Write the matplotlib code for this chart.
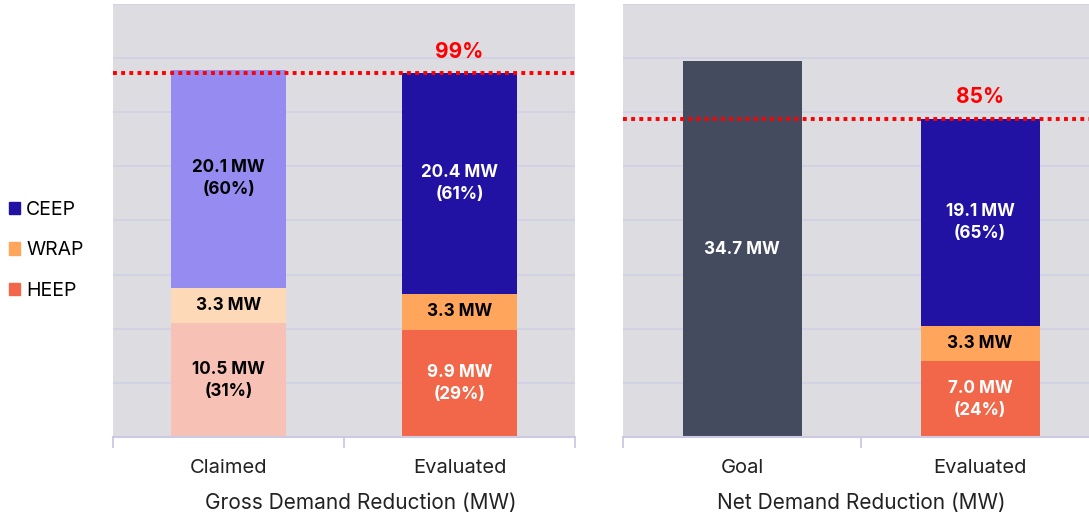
import matplotlib.pyplot as plt
from matplotlib.patches import Patch

plt.rcParams['font.family'] = ['Inter', 'DejaVu Sans']

# gross demand reduction (MW)
gross_cats = ['Claimed', 'Evaluated']
gross_heep = [10.5, 9.9]
gross_wrap = [3.3, 3.3]
gross_ceep = [20.1, 20.4]
gross_heep_lbl = ['10.5 MW\n(31%)', '9.9 MW\n(29%)']
gross_wrap_lbl = ['3.3 MW', '3.3 MW']
gross_ceep_lbl = ['20.1 MW\n(60%)', '20.4 MW\n(61%)']
gross_pct = '99%'

# net demand reduction (MW)
net_cats = ['Goal', 'Evaluated']
net_goal = 34.7
net_heep = 7.0
net_wrap = 3.3
net_ceep = 19.1
net_goal_lbl = '34.7 MW'
net_heep_lbl = '7.0 MW\n(24%)'
net_wrap_lbl = '3.3 MW'
net_ceep_lbl = '19.1 MW\n(65%)'
net_pct = '85%'

c_ceep, c_wrap, c_heep = '#2112A3', '#FFA55C', '#F2674A'
c_ceep_l, c_wrap_l, c_heep_l = '#958BF1', '#FED9B8', '#F8C1B6'
c_goal = '#454B5E'
bg = '#DDDCE1'
grid_c = '#D3D1E6'
spine_c = '#CBC9E3'
W = 0.5

fig = plt.figure(figsize=(10.89, 5.16), dpi=100)
ax1 = fig.add_axes([113 / 1089, 79 / 516, 462 / 1089, 433 / 516])
ax2 = fig.add_axes([623 / 1089, 79 / 516, 476 / 1089, 433 / 516])


def style(ax, cats, title):
    ax.set_facecolor(bg)
    ax.set_ylim(0, 40)
    ax.set_xlim(-0.5, 1.5)
    ax.set_yticks(range(5, 41, 5))
    ax.yaxis.grid(True, color=grid_c, lw=1.3)
    ax.set_axisbelow(True)
    ax.tick_params(axis='y', length=0, labelleft=False)
    ax.set_xticks([0, 1])
    ax.set_xticklabels(cats, fontsize=14.5, color='#222222')
    ax.set_xticks([-0.5, 0.5, 1.5], minor=True)
    ax.tick_params(axis='x', which='major', length=0, pad=16)
    ax.tick_params(axis='x', which='minor', length=8, width=1.3, color=spine_c)
    for s in ['top', 'right', 'left']:
        ax.spines[s].set_visible(False)
    ax.spines['bottom'].set_color(spine_c)
    ax.spines['bottom'].set_linewidth(1.5)
    ax.set_xlabel(title, fontsize=15, color='#222222', labelpad=10)


def label(ax, x, bottom, h, text, color):
    ax.text(x, bottom + h / 2, text, ha='center', va='center', fontsize=12.3,
            fontweight='bold', color=color, linespacing=1.4)


def target(ax, y, x, text):
    ax.axhline(y, color='#FF0000', lw=2.8, ls=(0, (1, 1.1)), zorder=4)
    ax.annotate(text, (x, y), xytext=(0, 15.5), textcoords='offset points',
                ha='center', va='center', fontsize=15, fontweight='bold',
                color='#FF0000')


# left panel
style(ax1, gross_cats, 'Gross Demand Reduction (MW)')
ax1.xaxis.set_label_coords(248 / 462, -0.13)
heep_cols = [c_heep_l, c_heep]
wrap_cols = [c_wrap_l, c_wrap]
ceep_cols = [c_ceep_l, c_ceep]
txt_cols = ['black', 'white']
for i in range(2):
    b1 = 0
    b2 = gross_heep[i]
    b3 = b2 + gross_wrap[i]
    ax1.bar(i, gross_heep[i], W, color=heep_cols[i], zorder=2)
    ax1.bar(i, gross_wrap[i], W, bottom=b2, color=wrap_cols[i], zorder=2)
    ax1.bar(i, gross_ceep[i], W, bottom=b3, color=ceep_cols[i], zorder=2)
    label(ax1, i, b1, gross_heep[i], gross_heep_lbl[i], txt_cols[i])
    label(ax1, i, b2, gross_wrap[i], gross_wrap_lbl[i], 'black')
    label(ax1, i, b3, gross_ceep[i], gross_ceep_lbl[i], txt_cols[i])
eval_total = gross_heep[1] + gross_wrap[1] + gross_ceep[1]
target(ax1, eval_total, 1, gross_pct)

# right panel
style(ax2, net_cats, 'Net Demand Reduction (MW)')
ax2.xaxis.set_label_coords(0.5, -0.13)
ax2.bar(0, net_goal, W, color=c_goal, zorder=2)
label(ax2, 0, 0, net_goal, net_goal_lbl, 'white')
ax2.bar(1, net_heep, W, color=c_heep, zorder=2)
ax2.bar(1, net_wrap, W, bottom=net_heep, color=c_wrap, zorder=2)
ax2.bar(1, net_ceep, W, bottom=net_heep + net_wrap, color=c_ceep, zorder=2)
label(ax2, 1, 0, net_heep, net_heep_lbl, 'white')
label(ax2, 1, net_heep, net_wrap, net_wrap_lbl, 'black')
label(ax2, 1, net_heep + net_wrap, net_ceep, net_ceep_lbl, 'white')
target(ax2, net_heep + net_wrap + net_ceep, 1, net_pct)

handles = [Patch(color=c_ceep), Patch(color=c_wrap), Patch(color=c_heep)]
fig.legend(handles, ['CEEP', 'WRAP', 'HEEP'], loc='center left',
           bbox_to_anchor=(0.0, 0.515), frameon=False, fontsize=14,
           handlelength=0.6, handleheight=0.6, handletextpad=0.3,
           labelspacing=1.15, borderaxespad=0.05)

fig.savefig('out.png', dpi=100)
